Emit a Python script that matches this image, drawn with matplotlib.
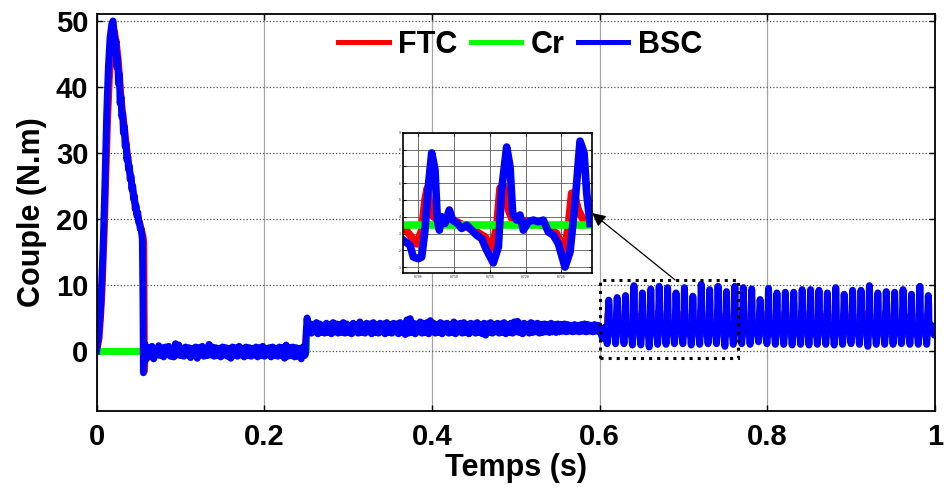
import numpy as np
import matplotlib.pyplot as plt
from matplotlib.lines import Line2D
from matplotlib.patches import Rectangle

plt.rcParams['font.family'] = ['Liberation Sans', 'DejaVu Sans']
plt.rcParams['font.weight'] = 'bold'

# ---- start-up transient ----
t_bsc_start = [0, 0.002, 0.004, 0.006, 0.008, 0.010, 0.012, 0.014, 0.016, 0.018,
               0.0195, 0.021, 0.022, 0.023, 0.024, 0.025, 0.026, 0.027, 0.028, 0.029,
               0.030, 0.031, 0.032, 0.033, 0.034, 0.035, 0.036, 0.037, 0.038, 0.039,
               0.040, 0.041, 0.042, 0.043, 0.044, 0.045, 0.046, 0.047, 0.048, 0.049,
               0.050, 0.051, 0.052, 0.053, 0.054, 0.0545, 0.0552, 0.0558, 0.0566, 0.0574]
bsc_start = [0, 2, 5, 10, 17, 26, 36, 43, 47.5, 49.5,
             50, 48, 45, 47, 43, 44.5, 40.5, 42, 37.5, 38.5,
             35.5, 36, 33, 34, 31, 31.5, 29, 29.5, 27.5, 28,
             26, 26.5, 24.5, 25, 23, 23.5, 21.5, 22, 20.5, 21,
             19.5, 19.5, 18.5, 18.5, 17.5, 17.0, 8.0, -3.3, 1.2, -1.6]

t_ftc_start = [0, 0.003, 0.006, 0.009, 0.011, 0.013, 0.015, 0.017, 0.019, 0.021,
               0.023, 0.025, 0.027, 0.029, 0.031, 0.033, 0.035, 0.037, 0.039, 0.041,
               0.043, 0.045, 0.047, 0.049, 0.051, 0.053, 0.055, 0.0562, 0.0570, 0.0580]
ftc_start = [0, 2, 8, 18, 27, 35, 41, 45.5, 47.5, 48.5,
             47, 45, 42, 38.5, 36, 34, 31.5, 29.5, 27.5, 26,
             24.5, 23, 21.5, 20.5, 19.5, 18.5, 17.5, 16.5, -3.0, 0.5]

# ---- no-load ripple, samples every 2 ms from 0.058 s ----
t_a0, dt_a = 0.058, 0.002
bsc_noload = [0.9, -1.1, 0.5, -0.8, 0.7, -1.2, 0.4, -0.6, 0.8, -0.7,
              0.5, -0.9, 0.6, -0.5, 0.7, -0.8, 0.3, -0.9, 1.1, -0.6,
              0.9, -0.7, 0.4, -0.8, 0.6, -0.6, 0.5, -1.0, 0.4, -0.7,
              0.6, -1.1, 0.5, -0.6, 0.7, -0.8, 0.4, -0.7, 1.0, -0.6,
              0.6, -0.8, 0.5, -0.7, 0.4, -0.9, 0.6, -0.6, 0.5, -0.8,
              0.4, -1.1, 0.6, -0.7, 0.5, -0.8, 0.7, -0.6, 0.4, -0.9,
              0.6, -0.7, 0.5, -0.8, 0.4, -0.6, 0.6, -0.9, 0.5, -0.7,
              0.7, -0.8, 0.4, -0.6, 0.5, -0.9, 0.6, -0.7, 0.4, -0.8,
              0.6, -0.7, 0.5, -1.1, 0.9, -0.8, 0.5, -0.7, 0.6, -0.9,
              0.5, -0.8, 0.4, -1.2, 0.6, -0.7]
t_ftc_noload = [0.06, 0.07, 0.08, 0.09, 0.10, 0.11, 0.12, 0.13, 0.14, 0.15,
                0.16, 0.17, 0.18, 0.19, 0.20, 0.21, 0.22, 0.23, 0.24]
ftc_noload = [0.2, -0.3, 0.1, -0.2, 0.3, -0.1, 0.2, -0.3, 0.1, -0.2,
              0.2, -0.1, 0.3, -0.2, 0.1, -0.3, 0.2, -0.1, 0.1]

# ---- load step at 0.25 s ----
t_bsc_step = [0.2490, 0.2500, 0.2510, 0.2520]
bsc_step = [-0.5, 3.0, 5.0, 3.5]
t_ftc_step = [0.2485, 0.2505, 0.2520, 0.2550]
ftc_step = [0.0, 3.0, 4.2, 3.5]

# ---- loaded ripple, samples every 2 ms from 0.254 s ----
t_b0, dt_b = 0.254, 0.002
bsc_load = [4.2, 2.7, 4.0, 2.9, 4.3, 2.6, 4.1, 2.8, 3.9, 2.7,
            4.2, 2.8, 4.0, 2.6, 4.3, 2.9, 4.1, 2.7, 4.0, 2.8,
            4.3, 2.7, 4.1, 2.8, 3.9, 2.6, 4.2, 2.9, 4.0, 2.7,
            4.4, 2.8, 4.0, 2.7, 4.2, 2.9, 4.1, 2.6, 4.3, 2.8,
            4.0, 2.7, 4.2, 2.9, 4.1, 2.6, 4.3, 2.8, 4.0, 2.7,
            4.2, 2.9, 4.1, 2.6, 4.3, 2.8, 4.0, 2.5, 4.7, 2.7,
            4.9, 2.8, 4.2, 2.6, 4.1, 2.9, 4.4, 2.7, 4.2, 2.8,
            4.3, 2.6, 4.6, 2.9, 4.2, 2.7, 4.0, 2.8, 4.3, 2.6,
            4.1, 2.9, 4.2, 2.7, 4.0, 2.8, 4.4, 2.6, 4.1, 2.9,
            4.2, 2.7, 4.3, 2.8, 4.0, 2.6, 4.2, 2.9, 4.1, 2.7,
            4.3, 2.8, 4.0, 2.6, 4.2, 2.4, 4.1, 2.8, 4.3, 2.7,
            4.0, 2.9, 4.2, 2.7, 4.1, 2.8, 4.3, 2.6, 4.0, 2.8,
            4.2, 2.7, 4.4, 2.9, 4.5, 2.8, 4.1, 2.6, 4.2, 2.9,
            4.0, 2.7, 4.3, 2.8, 4.1, 2.9, 4.2, 2.7, 4.0, 2.8,
            4.1, 2.9, 4.0, 2.8, 4.2, 2.9, 4.0, 2.8, 4.1, 2.9,
            4.0, 3.0, 4.1, 2.9, 4.0, 3.0, 3.9, 2.9, 4.0, 3.0,
            3.9, 2.9, 4.0, 3.0, 4.1, 2.9, 4.0, 3.0, 3.9, 2.9,
            4.0, 3.0, 3.9, 3.1]
t_ftc_load = [0.26, 0.27, 0.28, 0.29, 0.30, 0.31, 0.32, 0.33, 0.34, 0.35,
              0.36, 0.37, 0.38, 0.39, 0.40, 0.41, 0.42, 0.43, 0.44, 0.45,
              0.46, 0.47, 0.48, 0.49, 0.50, 0.51, 0.52, 0.53, 0.54, 0.55,
              0.56, 0.57, 0.58, 0.59, 0.60]
ftc_load = [3.5, 3.3, 3.6, 3.4, 3.5, 3.3, 3.6, 3.4, 3.5, 3.3,
            3.6, 3.4, 3.5, 3.3, 3.6, 3.4, 3.5, 3.3, 3.6, 3.4,
            3.5, 3.3, 3.6, 3.4, 3.5, 3.3, 3.6, 3.4, 3.5, 3.3,
            3.6, 3.4, 3.5, 3.4, 3.5]

# ---- fault region (t > 0.6 s): one pulse per 10 ms ----
t_bsc_pre = [0.6036, 0.6062, 0.6075]
bsc_pre = [1.9, 3.6, 3.0]
t_ftc_pre = [0.604, 0.607]
ftc_pre = [2.6, 3.5]
first_peak, period = 0.6108, 0.01003
bsc_peaks = [7.7, 8.1, 8.4, 9.9, 8.8, 9.4, 9.8, 9.6, 8.8, 9.6,
             8.3, 10.1, 9.3, 9.8, 9.0, 9.8, 9.6, 9.4, 7.8, 9.5,
             8.8, 8.9, 8.9, 9.3, 9.3, 9.2, 8.8, 9.6, 8.6, 9.2,
             9.2, 9.9, 8.8, 9.0, 8.9, 9.3, 8.6, 9.8, 8.4]
bsc_troughs = [1.1, 1.1, 1.1, 0.9, 0.9, 0.6, 1.0, 1.0, 1.1, 1.1,
               0.9, 1.0, 1.1, 1.1, 0.7, 1.0, 1.1, 1.0, 1.4, 1.1,
               1.0, 1.0, 0.9, 1.0, 0.9, 1.0, 1.0, 0.9, 1.0, 1.1,
               1.0, 0.7, 1.0, 1.0, 1.0, 1.1, 1.0, 1.0, 1.0]
ftc_peaks = [5.6, 5.8, 5.9, 6.1, 5.8, 6.0, 6.1, 6.0, 5.8, 6.0,
             5.7, 6.2, 5.9, 6.0, 5.8, 6.1, 6.0, 5.9, 5.6, 6.0,
             5.8, 5.9, 5.9, 6.0, 6.0, 5.9, 5.8, 6.0, 5.7, 5.9,
             5.9, 6.1, 5.8, 5.9, 5.9, 6.0, 5.7, 6.0, 5.7]
# pulse shape (offsets from the BSC peak)
bsc_cycle_dt = [-0.0019, -0.0012, -0.0007, 0.0, 0.0005, 0.0008, 0.0014, 0.0019,
                0.0023, 0.0030, 0.0037, 0.0044, 0.0051, 0.0058, 0.0065, 0.0072]
bsc_cycle_before = [2.2, 5.6]
bsc_cycle_after = [7.0, 4.2, 3.8, 4.1, 3.2, 3.7, 3.8, 3.7, 3.8, 3.1, 2.9, 2.4]
ftc_cycle_dt = [-0.0021, -0.0014, -0.0010, -0.0004, 0.0002, 0.0009, 0.0018,
                0.0037, 0.0056, 0.0070]
ftc_cycle_trough = 2.1
ftc_cycle_before = [3.4, 5.5]
ftc_cycle_after = [4.4, 3.7, 3.8, 3.7, 3.4, 3.0]
bsc_end, ftc_end = 3.0, 3.2

# ---- load torque ----
t_cr = [0, 0.25, 0.25, 1.0]
cr = [0, 0, 3.5, 3.5]

# ---- inset (zoom of a few pulses) ----
t_in_bsc = [0.70291, 0.70384, 0.70431, 0.70500, 0.70547, 0.70593, 0.70640, 0.70687,
            0.70733, 0.70766, 0.70794, 0.70826, 0.70873, 0.70933, 0.70980, 0.71045,
            0.71106, 0.71176, 0.71245, 0.71315, 0.71385, 0.71455, 0.71548, 0.71618,
            0.71664, 0.71734, 0.71781, 0.71818, 0.71874, 0.71920, 0.71967, 0.72037,
            0.72107, 0.72176, 0.72246, 0.72316, 0.72386, 0.72456, 0.72549, 0.72619,
            0.72689, 0.72759, 0.72815, 0.72852, 0.72898]
in_bsc = [2.6, 2.3, 1.6, 1.5, 1.6, 3.2, 5.8, 7.8,
          6.8, 3.8, 3.2, 4.0, 3.6, 4.4, 3.8, 3.6,
          3.3, 3.5, 3.2, 2.9, 2.7, 2.0, 1.25, 2.2,
          5.6, 8.15, 7.0, 4.2, 3.8, 4.1, 3.2, 3.7,
          3.8, 3.7, 3.8, 3.1, 2.9, 2.4, 1.0, 1.9,
          4.8, 8.5, 7.8, 5.4, 3.6]
t_in_ftc = [0.70291, 0.70384, 0.70477, 0.70547, 0.70593, 0.70626, 0.70663, 0.70710,
            0.70780, 0.70896, 0.71036, 0.71176, 0.71315, 0.71432, 0.71525, 0.71595,
            0.71641, 0.71697, 0.71758, 0.71827, 0.71920, 0.72107, 0.72293, 0.72432,
            0.72535, 0.72595, 0.72642, 0.72675, 0.72735, 0.72805, 0.72898]
in_ftc = [3.4, 2.9, 2.38, 3.2, 5.0, 5.7, 4.6, 4.0,
          3.8, 3.8, 3.7, 3.4, 3.1, 2.8, 2.1, 3.4,
          5.7, 5.8, 4.4, 3.7, 3.8, 3.7, 3.4, 3.0,
          1.9, 3.4, 5.4, 5.4, 4.4, 3.8, 3.7]
inset_xlim = (0.70282, 0.72922)
inset_ylim = (0.63, 9.0)
inset_xticks = [0.705, 0.71, 0.715, 0.72, 0.725]
inset_yticks = [1, 2, 3, 4, 5, 6, 7, 8, 9]


# assemble the two torque signals
t_a = t_a0 + dt_a * np.arange(len(bsc_noload))
t_b = t_b0 + dt_b * np.arange(len(bsc_load))

osc_t, osc_v = [], []
for k, (pk, tr) in enumerate(zip(bsc_peaks, bsc_troughs)):
    tp = first_peak + k * period
    osc_t += [tp + d for d in bsc_cycle_dt]
    osc_v += [tr] + bsc_cycle_before + [pk] + bsc_cycle_after
ftc_osc_t, ftc_osc_v = [], []
for k, pk in enumerate(ftc_peaks):
    tp = first_peak + k * period
    ftc_osc_t += [tp + d for d in ftc_cycle_dt]
    ftc_osc_v += [ftc_cycle_trough] + ftc_cycle_before + [pk] + ftc_cycle_after

t_bsc = np.concatenate([t_bsc_start, t_a, t_bsc_step, t_b, t_bsc_pre, osc_t, [1.0]])
bsc = np.concatenate([bsc_start, bsc_noload, bsc_step, bsc_load, bsc_pre, osc_v, [bsc_end]])
t_ftc = np.concatenate([t_ftc_start, t_ftc_noload, t_ftc_step, t_ftc_load, t_ftc_pre,
                        ftc_osc_t, [1.0]])
ftc = np.concatenate([ftc_start, ftc_noload, ftc_step, ftc_load, ftc_pre, ftc_osc_v, [ftc_end]])

fig = plt.figure(figsize=(9.44, 4.90), dpi=100)
ax = fig.add_axes([0.1024, 0.1618, 0.8881, 0.8096])

ax.plot(t_ftc, ftc, color='#ff0000', lw=5)
ax.plot(t_cr, cr, color='#00ff00', lw=5)
ax.plot(t_bsc, bsc, color='#0000ff', lw=5)

ax.set_xlim(0, 1)
ax.set_ylim(-9.05, 51.05)
ax.set_xticks([0, 0.2, 0.4, 0.6, 0.8, 1])
ax.set_xticklabels(['0', '0.2', '0.4', '0.6', '0.8', '1'])
ax.set_yticks([0, 10, 20, 30, 40, 50])
ax.tick_params(direction='in', top=True, right=True, length=4, width=1,
               labelsize=21, pad=6)
ax.tick_params(axis='x', pad=9)
ax.yaxis.grid(True, ls=':', color='0.3', lw=0.9)
ax.xaxis.grid(True, ls='-', color='0.65', lw=0.9)
for s in ax.spines.values():
    s.set_linewidth(1.3)
ax.set_xlabel('Temps (s)', fontsize=22, fontweight='bold', labelpad=1)
ax.set_ylabel('Couple (N.m)', fontsize=22, fontweight='bold', labelpad=6)

handles = [Line2D([], [], color='#ff0000', lw=3.6),
           Line2D([], [], color='#00ff00', lw=3.6),
           Line2D([], [], color='#0000ff', lw=3.6)]
ax.legend(handles, ['FTC', 'Cr', 'BSC'], loc='center', bbox_to_anchor=(0.505, 0.922),
          ncol=3, frameon=False, fontsize=22, handlelength=1.65, handletextpad=0.3,
          columnspacing=0.45, borderaxespad=0)

ax.add_patch(Rectangle((0.6007, -1.05), 0.1641, 11.81, fill=False, ec='k',
                       ls=':', lw=2.2, zorder=5))
ax.annotate('', xy=(0.5909, 20.9), xytext=(0.690, 10.76),
            arrowprops=dict(arrowstyle='-|>', color='k', lw=0.9, mutation_scale=20,
                            shrinkA=0, shrinkB=0), zorder=6)

axi = fig.add_axes([0.4266, 0.4422, 0.2002, 0.2869])
axi.plot(t_in_ftc, in_ftc, color='#ff0000', lw=5.5)
axi.plot(t_cr, cr, color='#00ff00', lw=5.5)
axi.plot(t_in_bsc, in_bsc, color='#0000ff', lw=5.5)
axi.set_xlim(*inset_xlim)
axi.set_ylim(*inset_ylim)
axi.set_xticks(inset_xticks)
axi.set_yticks(inset_yticks)
axi.tick_params(direction='in', top=True, right=True, length=2.5, width=0.8,
                labelsize=2.5, labelcolor='0.4', pad=1.5)
axi.grid(True, ls='-', color='0.35', lw=0.6)
for s in axi.spines.values():
    s.set_linewidth(1.2)

fig.savefig('out.png', dpi=100)
